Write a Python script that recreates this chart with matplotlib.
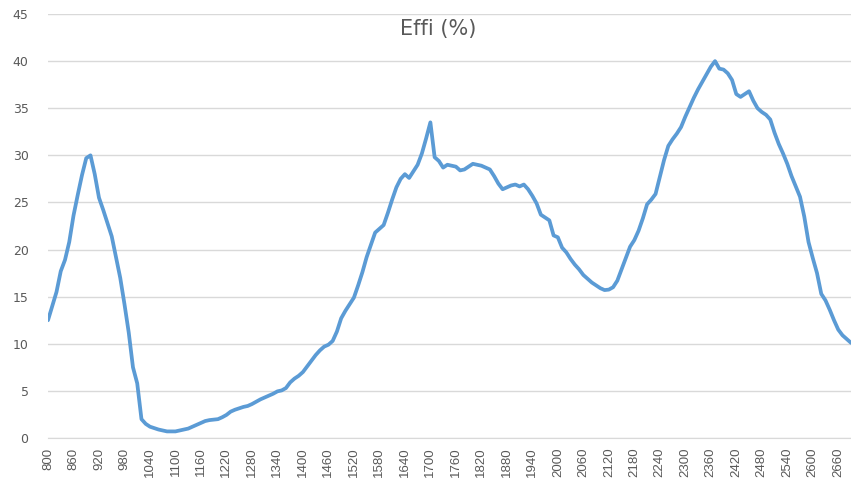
import numpy as np
import matplotlib
matplotlib.use("Agg")
import matplotlib.pyplot as plt

# wavelength categories, 10 nm steps
wavelength = list(range(800, 2700, 10))

effi = [
    12.5, 14.0, 15.5, 17.7, 18.9, 20.8, 23.6, 25.8, 27.9, 29.7,   # 800-890
    30.0, 28.0, 25.5, 24.2, 22.8, 21.4, 19.2, 17.0, 14.2, 11.2,   # 900-990
    7.5, 5.8, 2.0, 1.5, 1.2, 1.05, 0.9, 0.8, 0.7, 0.7,            # 1000-1090
    0.7, 0.8, 0.9, 1.0, 1.2, 1.4, 1.6, 1.8, 1.9, 1.95,            # 1100-1190
    2.0, 2.2, 2.45, 2.8, 3.0, 3.15, 3.3, 3.4, 3.6, 3.85,          # 1200-1290
    4.1, 4.3, 4.5, 4.7, 4.95, 5.05, 5.3, 5.9, 6.3, 6.6,           # 1300-1390
    7.0, 7.6, 8.2, 8.8, 9.3, 9.7, 9.9, 10.3, 11.3, 12.7,          # 1400-1490
    13.5, 14.2, 14.9, 16.2, 17.6, 19.2, 20.5, 21.8, 22.2, 22.6,   # 1500-1590
    23.9, 25.3, 26.6, 27.5, 28.0, 27.6, 28.3, 29.0, 30.2, 31.8,   # 1600-1690
    33.5, 29.8, 29.4, 28.7, 29.0, 28.9, 28.8, 28.4, 28.5, 28.8,   # 1700-1790
    29.1, 29.0, 28.9, 28.7, 28.5, 27.8, 27.0, 26.4, 26.6, 26.8,   # 1800-1890
    26.9, 26.7, 26.9, 26.4, 25.7, 24.9, 23.7, 23.4, 23.1, 21.5,   # 1900-1990
    21.3, 20.2, 19.7, 19.0, 18.4, 17.9, 17.3, 16.9, 16.5, 16.2,   # 2000-2090
    15.9, 15.7, 15.75, 16.0, 16.7, 17.9, 19.1, 20.3, 21.0, 22.0,  # 2100-2190
    23.3, 24.8, 25.3, 25.9, 27.7, 29.5, 31.0, 31.7, 32.3, 33.0,   # 2200-2290
    34.1, 35.1, 36.1, 37.0, 37.8, 38.6, 39.4, 40.0, 39.2, 39.1,   # 2300-2390
    38.7, 38.0, 36.5, 36.2, 36.5, 36.8, 35.8, 35.0, 34.6, 34.3,   # 2400-2490
    33.8, 32.4, 31.2, 30.2, 29.1, 27.8, 26.7, 25.6, 23.5, 20.8,   # 2500-2590
    19.1, 17.5, 15.3, 14.6, 13.6, 12.5, 11.5, 10.9, 10.5, 10.1,   # 2600-2690
]

title = "Effi (%)"
y_ticks = list(range(0, 50, 5))
x_labels = wavelength[::6]

text_color = "#595959"
grid_color = "#d9d9d9"

fig = plt.figure(figsize=(8.51, 4.87), dpi=100)
ax = fig.add_axes([48 / 851, 1 - 438 / 487, 1 - 48 / 851, (438 - 14) / 487])

ax.plot(wavelength, effi, color="#5b9bd5", linewidth=2.7,
        solid_joinstyle="round", solid_capstyle="round")

ax.set_xlim(wavelength[0], wavelength[-1])
ax.set_ylim(0, 45)
ax.set_yticks(y_ticks)
ax.set_xticks(x_labels)
ax.set_xticklabels([str(v) for v in x_labels], rotation=90,
                   family=["Liberation Sans Narrow", "Liberation Sans"],
                   fontsize=9.5)
ax.set_yticklabels([str(v) for v in y_ticks], family="DejaVu Sans", fontsize=9)

ax.grid(axis="y", color=grid_color, linewidth=1)
ax.set_axisbelow(True)
for side in ("top", "right", "left"):
    ax.spines[side].set_visible(False)
ax.spines["bottom"].set_color(grid_color)
ax.tick_params(axis="both", length=0, colors=text_color)
ax.tick_params(axis="y", pad=14)
ax.tick_params(axis="x", pad=7)

fig.text(438 / 851, 1 - 29 / 487, title, ha="center", va="center",
         family="DejaVu Sans", fontsize=15, color=text_color)

fig.savefig("out.png", dpi=100)
